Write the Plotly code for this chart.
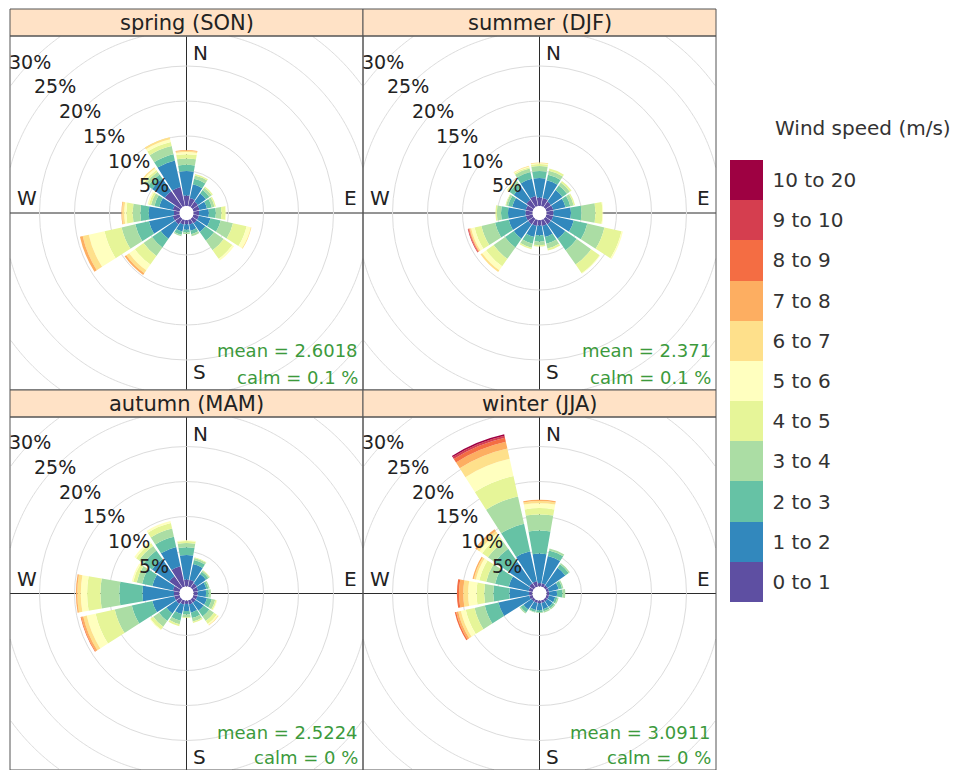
import numpy as np
import plotly.graph_objects as go

# ---------------- data ----------------
directions = [0, 22.5, 45, 67.5, 90, 112.5, 135, 157.5, 180, 202.5, 225, 247.5, 270, 292.5, 315, 337.5]
dir_names = ["N", "NNE", "NE", "ENE", "E", "ESE", "SE", "SSE", "S", "SSW", "SW", "WSW", "W", "WNW", "NW", "NNW"]
speed_bins = ["0 to 1", "1 to 2", "2 to 3", "3 to 4", "4 to 5", "5 to 6",
              "6 to 7", "7 to 8", "8 to 9", "9 to 10", "10 to 20"]
speed_colors = ["#5E4FA2", "#3288BD", "#66C2A5", "#ABDDA4", "#E6F598", "#FFFFBF",
                "#FEE08B", "#FDAE61", "#F46D43", "#D53E4F", "#9E0142"]
seasons = ["spring (SON)", "summer (DJF)", "autumn (MAM)", "winter (JJA)"]
mean_speed = ["2.6018", "2.371", "2.5224", "3.0911"]
calm_pct = ["0.1", "0.1", "0", "0"]
radial_ticks = [5, 10, 15, 20, 25, 30]

# cumulative frequency (%) at the top of each speed band, one list per direction (N, NNE, ... NNW)
spring_cum = [
    [1.5, 5.0, 5.9, 6.8, 7.4, 7.7, 7.9, 8.0],
    [1.2, 3.2, 4.0, 4.5, 4.7],
    [1.0, 2.4, 3.0, 3.4, 3.6],
    [0.9, 2.0, 2.7, 3.1, 3.3],
    [0.8, 2.2, 3.2, 4.0, 4.6, 4.7],
    [0.8, 2.5, 4.0, 5.8, 7.8, 8.4, 8.5],
    [0.8, 2.3, 3.8, 5.5, 7.0, 7.3],
    [0.7, 1.6, 2.1, 2.4],
    [0.6, 1.4, 1.8, 2.0],
    [0.7, 1.7, 2.2, 2.4],
    [1.0, 3.5, 5.0, 6.5, 8.0, 9.0, 9.5, 9.8],
    [1.0, 4.5, 6.5, 8.5, 11.0, 13.3, 14.2, 14.6],
    [0.8, 4.4, 5.6, 6.7, 7.6, 7.9, 8.2, 8.3],
    [1.0, 3.0, 3.7, 4.2, 4.5, 4.7],
    [2.8, 5.0, 5.7, 6.2, 6.5, 6.8, 7.0],
    [2.8, 6.7, 7.6, 8.8, 9.4, 9.8, 10.1],
]
summer_cum = [
    [1.2, 4.0, 5.0, 5.7, 6.0, 6.1, 6.2],
    [1.2, 3.8, 4.6, 5.2, 5.5],
    [1.0, 3.0, 3.8, 4.3, 4.6],
    [1.0, 2.8, 3.5, 4.0, 4.2],
    [1.0, 3.5, 5.0, 7.0, 8.0, 8.1],
    [1.0, 4.0, 6.0, 8.5, 11.0, 11.2],
    [1.0, 3.5, 5.5, 8.0, 9.5, 9.6],
    [0.9, 2.5, 3.5, 4.2, 4.5],
    [0.8, 2.2, 3.1, 3.6, 3.8],
    [0.9, 2.5, 3.5, 4.1, 4.3],
    [1.0, 3.5, 5.0, 7.0, 8.3, 9.0, 9.3],
    [1.0, 3.5, 5.5, 7.5, 8.5, 9.0, 9.2, 9.3, 9.4, 9.5],
    [1.0, 3.5, 4.5, 5.1, 5.3],
    [1.0, 3.0, 3.6, 3.9, 4.0],
    [1.3, 3.5, 4.2, 4.5, 4.7],
    [1.5, 4.0, 5.0, 5.5, 5.7, 5.8, 5.9],
]
autumn_cum = [
    [1.0, 4.5, 5.6, 6.2, 6.5, 6.6],
    [1.0, 3.3, 3.9, 4.2, 4.3],
    [0.8, 2.4, 2.8, 3.0, 3.1],
    [0.7, 1.9, 2.2, 2.4],
    [0.6, 1.8, 2.2, 2.5],
    [0.6, 2.0, 2.7, 3.2, 3.4, 3.5],
    [0.6, 2.0, 3.0, 3.8, 4.3, 4.5, 4.6],
    [0.6, 1.8, 2.6, 3.1, 3.3],
    [0.5, 1.5, 2.0, 2.4, 2.5],
    [0.6, 2.0, 3.0, 3.5, 3.8],
    [0.8, 2.5, 3.8, 4.8, 5.3, 5.4],
    [0.8, 4.0, 7.0, 9.5, 12.3, 13.6, 14.1, 14.4, 14.5],
    [0.8, 5.3, 8.6, 11.3, 13.2, 14.1, 14.6, 14.8],
    [1.0, 4.0, 5.5, 6.3, 6.8, 7.0],
    [2.0, 5.0, 6.5, 7.3, 7.8, 8.1],
    [3.0, 5.8, 7.3, 8.5, 9.3, 9.6],
]
winter_cum = [
    [0.5, 4.7, 8.0, 10.3, 11.2, 11.9, 12.2, 12.4],
    [0.5, 4.5, 5.3, 5.6],
    [0.4, 3.5, 4.1, 4.3],
    [0.4, 1.8, 2.3, 2.5],
    [0.4, 1.5, 2.3, 2.7],
    [0.4, 1.3, 1.6, 1.8],
    [0.4, 1.3, 1.6, 1.8],
    [0.4, 1.3, 1.6, 1.8],
    [0.4, 1.4, 1.7, 1.8],
    [0.4, 1.4, 1.7, 1.8],
    [0.4, 1.8, 2.3, 2.5],
    [0.5, 5.0, 7.0, 8.5, 9.8, 10.5, 10.9, 11.2, 11.4],
    [0.5, 3.3, 5.6, 6.9, 8.0, 9.2, 9.9, 10.5, 10.8],
    [0.6, 3.5, 5.5, 6.8, 7.8, 8.3, 8.6, 8.8],
    [0.8, 4.5, 6.8, 8.0, 9.0, 9.5, 9.9, 10.2],
    [0.8, 5.2, 9.2, 13.2, 16.2, 18.7, 20.2, 21.2, 21.8, 22.1, 22.3],
]
season_cum = [spring_cum, summer_cum, autumn_cum, winter_cum]

# ---------------- layout geometry (pixels) ----------------
W, H = 959, 770
FONT = "DejaVu Sans, Liberation Sans, Arial"
COLS = [(10, 363), (363, 716)]
ROWS = [(9, 36, 390), (390, 417, 770)]  # strip top, plot top, plot bottom
# vertical text offsets above the plot bottom: (S letter, mean, calm)
ROW_TEXT = [(18, 40, 13), (13, 38, 13)]
HOLE_PX = 7.0
PX_PER_PCT = 7.0
GRID_COL = "#dcdcdc"
FRAME_COL = "#555555"


def fx(px):
    return px / W


def fy(py):
    return 1 - py / H


def band_values(cum_rows):
    out = np.zeros((len(speed_bins), len(cum_rows)))
    for j, row in enumerate(cum_rows):
        full = list(row) + [row[-1]] * (len(speed_bins) - len(row))
        out[:, j] = np.diff([0.0] + full)
    return out


fig = go.Figure()
shapes = []
annotations = []
layout_polars = {}

for k in range(4):
    r_i, c_i = divmod(k, 2)
    x0, x1 = COLS[c_i]
    st, y0, y1 = ROWS[r_i]
    s_off, m_off, c_off = ROW_TEXT[r_i]
    cx, cy = (x0 + x1) / 2, (y0 + y1) / 2
    R_px = min(x1 - x0, y1 - y0) / 2
    rmax = (R_px - HOLE_PX) / PX_PER_PCT
    pname = "polar" if k == 0 else f"polar{k + 1}"

    layout_polars[pname] = dict(
        domain=dict(x=[fx(x0), fx(x1)], y=[fy(y1), fy(y0)]),
        bgcolor="rgba(0,0,0,0)",
        hole=HOLE_PX / R_px,
        barmode="stack",
        radialaxis=dict(range=[0, rmax], tickvals=[5, 10, 15, 20], showticklabels=False,
                        ticks="", showline=False, gridcolor=GRID_COL, gridwidth=1),
        angularaxis=dict(rotation=90, direction="clockwise", tickvals=[0, 90, 180, 270],
                         showticklabels=False, ticks="", showline=False,
                         gridcolor="#2b2b2b", gridwidth=1.3),
    )

    vals = band_values(season_cum[k])
    for i in range(len(speed_bins)):
        fig.add_trace(go.Barpolar(
            r=vals[i], theta=directions, width=[20] * len(directions),
            marker=dict(color=speed_colors[i], line=dict(width=0)),
            name=speed_bins[i], showlegend=False,
            subplot=pname,
            hovertext=dir_names, hoverinfo="text+r",
        ))

    # outer rings clipped to the panel rectangle
    for p in radial_ticks:
        rp = HOLE_PX + PX_PER_PCT * p
        if rp <= R_px:
            continue
        segs, cur = [], []
        for a in np.arange(0, 360.25, 0.5):
            xx = cx + rp * np.cos(np.radians(a))
            yy = cy + rp * np.sin(np.radians(a))
            if x0 <= xx <= x1 and y0 <= yy <= y1:
                cur.append((xx, yy))
            else:
                if len(cur) > 1:
                    segs.append(cur)
                cur = []
        if len(cur) > 1:
            segs.append(cur)
        for s in segs:
            path = "M " + " L ".join(f"{fx(a):.5f},{fy(b):.5f}" for a, b in s)
            shapes.append(dict(type="path", path=path, xref="paper", yref="paper",
                               line=dict(color=GRID_COL, width=1), layer="below"))

    # radial labels along the NW diagonal
    for p in radial_ticks:
        rp = HOLE_PX + PX_PER_PCT * p
        lx = cx - rp * 0.7071 - 3
        ly = cy - rp * 0.7071 + 2
        annotations.append(dict(x=fx(lx), y=fy(ly), xref="paper", yref="paper",
                                text=f"{p}%", showarrow=False, xanchor="center", yanchor="middle",
                                font=dict(family=FONT, size=19, color="#222222")))

    # compass letters
    annotations += [
        dict(x=fx(cx + 4), y=fy(y0 + 17), text="N", xanchor="left", yanchor="middle"),
        dict(x=fx(cx + 4), y=fy(y1 - s_off), text="S", xanchor="left", yanchor="middle"),
        dict(x=fx(x0 + 5), y=fy(cy - 1), text="W", xanchor="left", yanchor="bottom"),
        dict(x=fx(x1 - 4), y=fy(cy - 1), text="E", xanchor="right", yanchor="bottom"),
    ]
    for a in annotations[-4:]:
        a.update(xref="paper", yref="paper", showarrow=False,
                 font=dict(family=FONT, size=20, color="#222222"))

    # statistics
    annotations.append(dict(x=fx(x1 - 3), y=fy(y1 - m_off), xref="paper", yref="paper",
                            text=f"mean = {mean_speed[k]}", showarrow=False,
                            xanchor="right", yanchor="middle",
                            font=dict(family=FONT, size=18, color="#3c9a3c")))
    annotations.append(dict(x=fx(x1 - 3), y=fy(y1 - c_off), xref="paper", yref="paper",
                            text=f"calm = {calm_pct[k]} %", showarrow=False,
                            xanchor="right", yanchor="middle",
                            font=dict(family=FONT, size=18, color="#3c9a3c")))

    # strip and frames
    shapes.append(dict(type="rect", xref="paper", yref="paper",
                       x0=fx(x0), x1=fx(x1), y0=fy(y0), y1=fy(st),
                       fillcolor="#FFE2C6", line=dict(color=FRAME_COL, width=1), layer="above"))
    shapes.append(dict(type="rect", xref="paper", yref="paper",
                       x0=fx(x0), x1=fx(x1), y0=fy(y1), y1=fy(y0),
                       fillcolor="rgba(0,0,0,0)", line=dict(color=FRAME_COL, width=1), layer="above"))
    annotations.append(dict(x=fx(cx), y=fy((st + y0) / 2), xref="paper", yref="paper",
                            text=seasons[k], showarrow=False, xanchor="center", yanchor="middle",
                            font=dict(family=FONT, size=21, color="#222222")))

# ---------------- speed legend (discrete colour bar) ----------------
nb = len(speed_bins)
cscale = []
for i, c in enumerate(speed_colors):
    cscale.append([i / nb, c])
    cscale.append([(i + 1) / nb, c])

fig.add_trace(go.Scatter(
    x=[None], y=[None], mode="markers", showlegend=False, hoverinfo="skip",
    marker=dict(color=[0], cmin=0, cmax=nb, colorscale=cscale, showscale=True,
                colorbar=dict(x=fx(730), xanchor="left", xpad=0,
                              y=fy(381), yanchor="middle", ypad=0,
                              len=442, lenmode="pixels", thickness=33,
                              outlinewidth=0, ticks="outside", ticklen=6,
                              tickcolor="rgba(0,0,0,0)",
                              tickvals=[i + 0.5 for i in range(nb)], ticktext=speed_bins,
                              tickfont=dict(family=FONT, size=20, color="#333333"))),
))
annotations.append(dict(x=fx(773), y=fy(128), xref="paper", yref="paper",
                        text="Wind speed (m/s)", showarrow=False, xanchor="left", yanchor="middle",
                        font=dict(family=FONT, size=20, color="#333333")))

fig.update_layout(
    width=W, height=H,
    margin=dict(l=0, r=0, t=0, b=0),
    paper_bgcolor="white", plot_bgcolor="white",
    xaxis=dict(visible=False), yaxis=dict(visible=False),
    shapes=shapes, annotations=annotations,
    **layout_polars,
)

fig.write_html("out.html", config={"displayModeBar": False},
               post_script="document.body.style.margin='0';document.body.style.overflow='hidden';")
